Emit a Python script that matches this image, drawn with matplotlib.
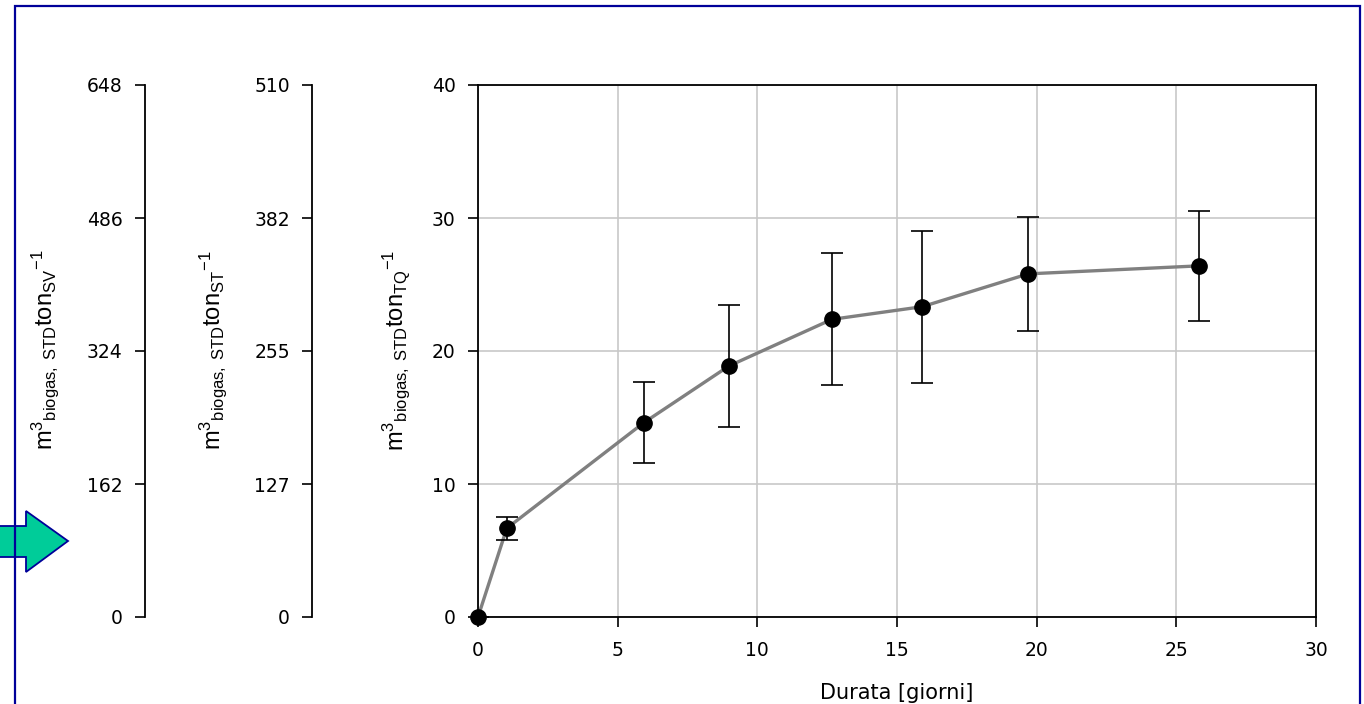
import matplotlib
matplotlib.use("Agg")
import matplotlib.pyplot as plt
from matplotlib.patches import Polygon, Rectangle
import numpy as np

# ---- data ----
durata = [0, 1.03, 5.93, 8.98, 12.67, 15.9, 19.7, 25.8]
biogas_tq = [0, 6.67, 14.6, 18.87, 22.38, 23.33, 25.8, 26.4]
err_tq = [0, 0.85, 3.05, 4.57, 4.96, 5.7, 4.28, 4.15]

x_ticks = [0, 5, 10, 15, 20, 25, 30]
tq_ticks = [0, 10, 20, 30, 40]
sv_ticklabels = ['0', '162', '324', '486', '648']
sv_max = 648
st_ticklabels = ['0', '127', '255', '382', '510']
st_max = 510

xlabel = 'Durata [giorni]'
lab_sv = r'm$^{3}$$_{\mathrm{biogas,\ STD}}$ton$_{\mathrm{SV}}$$^{\mathrm{-1}}$'
lab_st = r'm$^{3}$$_{\mathrm{biogas,\ STD}}$ton$_{\mathrm{ST}}$$^{\mathrm{-1}}$'
lab_tq = r'm$^{3}$$_{\mathrm{biogas,\ STD}}$ton$_{\mathrm{TQ}}$$^{\mathrm{-1}}$'

plt.rcParams['font.family'] = ['DejaVu Sans']
plt.rcParams['mathtext.fontset'] = 'custom'
plt.rcParams['mathtext.rm'] = 'Liberation Sans'
plt.rcParams['mathtext.it'] = 'Liberation Sans'
plt.rcParams['mathtext.bf'] = 'Liberation Sans'

W, H = 1364, 704
fig = plt.figure(figsize=(W / 100, H / 100), dpi=100)

def fx(px):
    return px / W

def fy(py):
    return 1 - py / H

ax_left, ax_right, ax_top, ax_bot = 478, 1316, 85, 617
ax = fig.add_axes([fx(ax_left), fy(ax_bot), fx(ax_right - ax_left), (ax_bot - ax_top) / H])

tick_fs = 13.5
ax.plot(durata, biogas_tq, color='#808080', lw=2.4, zorder=3)
ax.errorbar(durata, biogas_tq, yerr=err_tq, fmt='none', ecolor='black',
            elinewidth=1.2, capsize=7.8, capthick=1.2, zorder=4)
ax.plot(durata, biogas_tq, 'o', color='black', ms=11, zorder=5, clip_on=False)

ax.set_xlim(0, 30)
ax.set_ylim(0, 40)
ax.set_xticks(x_ticks)
ax.set_yticks(tq_ticks)
ax.grid(True, color='#C8C8C8', lw=1.2, zorder=0)
ax.set_axisbelow(True)
for s in ax.spines.values():
    s.set_linewidth(1.3)
    s.set_color('black')
ax.tick_params(direction='out', length=7, width=1.2, labelsize=tick_fs, pad=9)
ax.tick_params(axis='x', pad=10)
ax.set_xlabel(xlabel, fontsize=15, labelpad=17)

def side_axis(xpx, ymax, labels):
    a = fig.add_axes([fx(xpx), fy(ax_bot), 0.0005, (ax_bot - ax_top) / H])
    a.set_ylim(0, ymax)
    a.set_yticks(np.linspace(0, ymax, len(labels)))
    a.set_yticklabels(labels)
    a.set_xticks([])
    for k in ['top', 'right', 'bottom']:
        a.spines[k].set_visible(False)
    a.spines['left'].set_linewidth(1.3)
    a.patch.set_alpha(0)
    a.tick_params(direction='out', length=7, width=1.2, labelsize=tick_fs, pad=9)
    return a

side_axis(145, sv_max, sv_ticklabels)
side_axis(312, st_max, st_ticklabels)

label_y = fy(350)
lab_kw = dict(rotation=90, ha='center', va='center', fontsize=17, family='Liberation Sans')
fig.text(fx(45), label_y, lab_sv, **lab_kw)
fig.text(fx(213), label_y, lab_st, **lab_kw)
fig.text(fx(396), label_y, lab_tq, **lab_kw)

# decorative arrow
arrow_px = [(-5, 526), (26, 526), (26, 511), (68, 541), (26, 572), (26, 557), (-5, 557)]
arrow = Polygon([(fx(x), fy(y)) for x, y in arrow_px], closed=True,
                transform=fig.transFigure, facecolor='#00CC99', edgecolor='#000099',
                lw=1.3, zorder=10)
fig.patches.append(arrow)

# frame border
border = Rectangle((fx(15), fy(720)), fx(1360 - 15), (720 - 6) / H,
                   transform=fig.transFigure, fill=False, edgecolor='#000099',
                   lw=1.6, zorder=11, clip_on=False)
fig.patches.append(border)

fig.savefig('out.png', dpi=100, facecolor='white')
